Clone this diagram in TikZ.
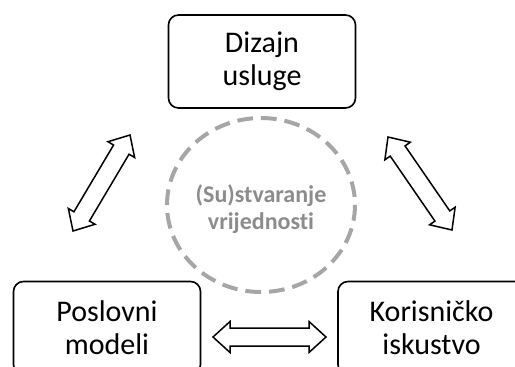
\documentclass[tikz,border=0pt]{standalone}
\usepackage{fontspec}
\setmainfont{Carlito}[Ligatures=NoCommon]
\usetikzlibrary{calc}
\definecolor{dashgray}{RGB}{166,166,166}
\definecolor{txtgray}{RGB}{140,140,140}
\newcommand{\dblblock}[2]{%
\draw[barrow] (#1)
 -- ($(#1)!17pt!(#2)!15.5pt!90:(#2)$)
 -- ($(#1)!17pt!(#2)!9pt!90:(#2)$)
 -- ($(#2)!17pt!(#1)!9pt!-90:(#1)$)
 -- ($(#2)!17pt!(#1)!15.5pt!-90:(#1)$)
 -- (#2)
 -- ($(#2)!17pt!(#1)!15.5pt!90:(#1)$)
 -- ($(#2)!17pt!(#1)!9pt!90:(#1)$)
 -- ($(#1)!17pt!(#2)!9pt!-90:(#2)$)
 -- ($(#1)!17pt!(#2)!15.5pt!-90:(#2)$)
 -- cycle;}
\begin{document}
\begin{tikzpicture}[x=1pt,y=-1pt,
  box/.style={draw=black, line width=1.6pt, rounded corners=10pt,
    minimum width=187pt, minimum height=93pt, align=center,
    font=\fontsize{30}{33}\selectfont, inner sep=0pt},
  barrow/.style={draw=black, line width=1.5pt, fill=white, line join=miter},
  valuecircle/.style={draw=dashgray, line width=4pt, dash pattern=on 15.7pt off 8pt},
  valuetext/.style={font=\bfseries\fontsize{24}{26.5}\selectfont, text=txtgray, align=center, inner sep=0pt}]
\useasboundingbox (0,0) rectangle (515,367);
\clip (0,0) rectangle (515,367);
\node[box] (dizajn) at (262,61.5) {Dizajn\\usluge};
\node[box] (poslovni) at (107,328) {Poslovni\\modeli};
\node[box] (korisnicko) at (431.5,328) {Korisničko\\iskustvo};
\draw[valuecircle] (261,205) ellipse [x radius=94, y radius=87];
\node[valuetext] (value) at (261,209) {(Su)stvaranje\\vrijednosti};
\coordinate (l1) at (73,231);
\coordinate (l2) at (130,135);
\coordinate (r1) at (388,137);
\coordinate (r2) at (452,230);
\coordinate (b1) at (213,337);
\coordinate (b2) at (326,337);
\dblblock{l1}{l2}
\dblblock{r1}{r2}
\dblblock{b1}{b2}
\end{tikzpicture}
\end{document}
